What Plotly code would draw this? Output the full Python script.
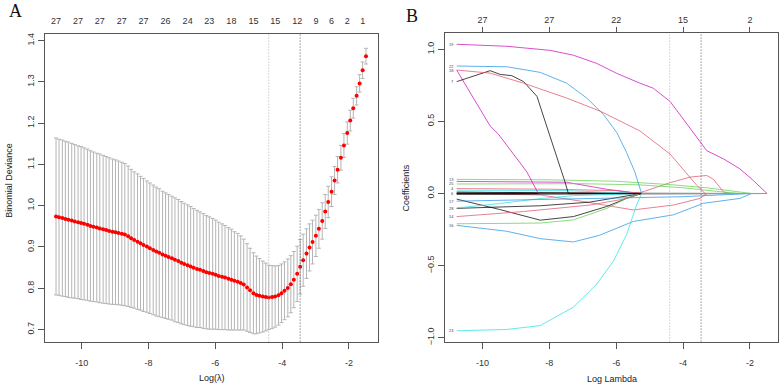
import plotly.graph_objects as go

W, H = 782, 391

# ---------------- Panel A data (cv.glmnet) ----------------
log_lambda = [-10.77, -10.68, -10.58, -10.49, -10.40, -10.30, -10.21, -10.11, -10.02, -9.93,
              -9.83, -9.74, -9.65, -9.55, -9.46, -9.36, -9.27, -9.18, -9.08, -8.99,
              -8.90, -8.80, -8.71, -8.61, -8.52, -8.43, -8.33, -8.24, -8.15, -8.05,
              -7.96, -7.86, -7.77, -7.68, -7.58, -7.49, -7.40, -7.30, -7.21, -7.11,
              -7.02, -6.93, -6.83, -6.74, -6.65, -6.55, -6.46, -6.36, -6.27, -6.18,
              -6.08, -5.99, -5.90, -5.80, -5.71, -5.61, -5.52, -5.43, -5.33, -5.24,
              -5.15, -5.05, -4.96, -4.86, -4.77, -4.68, -4.58, -4.49, -4.40, -4.30,
              -4.21, -4.11, -4.02, -3.93, -3.83, -3.74, -3.65, -3.55, -3.46, -3.37,
              -3.27, -3.18, -3.09, -2.99, -2.90, -2.80, -2.71, -2.62, -2.52, -2.43,
              -2.34, -2.24, -2.15, -2.05, -1.96, -1.87, -1.77, -1.68, -1.59, -1.49]

cv_mean = [0.974, 0.972, 0.970, 0.968, 0.966, 0.964, 0.962, 0.960, 0.958, 0.956,
           0.954, 0.951, 0.949, 0.947, 0.945, 0.943, 0.941, 0.939, 0.937, 0.936,
           0.934, 0.932, 0.930, 0.926, 0.921, 0.917, 0.913, 0.909, 0.905, 0.901,
           0.897, 0.893, 0.889, 0.886, 0.882, 0.879, 0.876, 0.873, 0.869, 0.866,
           0.862, 0.859, 0.856, 0.853, 0.850, 0.847, 0.845, 0.842, 0.839, 0.837,
           0.835, 0.833, 0.830, 0.828, 0.826, 0.823, 0.821, 0.818, 0.816, 0.813,
           0.809, 0.802, 0.795, 0.788, 0.784, 0.782, 0.780, 0.779, 0.778, 0.779,
           0.780, 0.783, 0.788, 0.794, 0.801, 0.810, 0.821, 0.835, 0.852, 0.868,
           0.884, 0.899, 0.912, 0.927, 0.944, 0.963, 0.986, 1.009, 1.034, 1.061,
           1.087, 1.116, 1.146, 1.176, 1.206, 1.236, 1.266, 1.296, 1.328, 1.362]

cv_se = [0.190, 0.189, 0.189, 0.188, 0.188, 0.187, 0.186, 0.185, 0.185, 0.184,
         0.183, 0.182, 0.181, 0.180, 0.180, 0.179, 0.178, 0.177, 0.176, 0.175,
         0.174, 0.173, 0.172, 0.170, 0.167, 0.165, 0.164, 0.162, 0.161, 0.159,
         0.158, 0.157, 0.156, 0.155, 0.153, 0.152, 0.151, 0.150, 0.150, 0.149,
         0.148, 0.147, 0.146, 0.145, 0.143, 0.142, 0.140, 0.139, 0.137, 0.136,
         0.134, 0.132, 0.130, 0.128, 0.126, 0.124, 0.122, 0.119, 0.117, 0.114,
         0.110, 0.106, 0.102, 0.098, 0.094, 0.090, 0.086, 0.082, 0.078, 0.076,
         0.074, 0.072, 0.071, 0.070, 0.070, 0.069, 0.068, 0.067, 0.066, 0.063,
         0.060, 0.057, 0.053, 0.050, 0.047, 0.044, 0.041, 0.038, 0.036, 0.034,
         0.032, 0.030, 0.029, 0.027, 0.025, 0.024, 0.022, 0.021, 0.020, 0.019]

top_idx_A = [0, 7, 14, 21, 28, 35, 42, 49, 56, 63, 70, 77, 83, 88, 93, 98]
top_nz_A = ["27", "27", "27", "27", "27", "26", "24", "23", "18", "15", "15", "12", "9", "6", "2", "1"]

lambda_min = -4.40
lambda_1se = -3.46

x_ticks = [-10, -8, -6, -4, -2]
x_tick_text = ["-10", "-8", "-6", "-4", "-2"]
top_nz_B = ["27", "27", "22", "15", "2"]

yA_ticks = [0.7, 0.8, 0.9, 1.0, 1.1, 1.2, 1.3, 1.4]
yB_ticks = [-1.0, -0.5, 0.0, 0.5, 1.0]

# ---------------- Panel B data (coefficient paths) ----------------
path_logl = {
    "20": [-10.77, -5.29, -4.39, -3.79, -3.29, -3.09, -2.79, -2.60, -1.49],
    "11": [-10.77, -8.27, -7.00, -5.49, -4.29, -3.49, -3.29, -1.49],
    "1":  [-10.77, -5.29, -1.49],
    "2":  [-10.77, -5.29, -1.49],
    "3":  [-10.77, -5.29, -1.49],
    "6":  [-10.77, -5.29, -1.49],
    "13": [-10.77, -8.00, -6.00, -4.40, -3.30, -2.50, -1.95, -1.49],
    "27": [-10.77, -7.48, -6.30, -5.29, -1.49],
    "25": [-10.77, -7.08, -5.30, -4.00, -3.00, -2.30, -1.49],
    "4":  [-10.77, -8.00, -6.00, -5.29, -1.49],
    "5":  [-10.77, -7.50, -5.29, -1.49],
    "15": [-10.77, -9.50, -8.27, -7.28, -6.28, -5.69, -5.24, -1.49],
    "28": [-10.77, -8.27, -6.80, -5.24, -1.49],
    "26": [-10.77, -9.50, -8.27, -7.28, -5.29, -1.49],
    "17": [-10.77, -8.27, -6.00, -4.00, -2.00, -1.49],
    "14": [-10.77, -8.77, -6.78, -5.80, -5.29, -1.49],
    "10": [-10.77, -8.27, -7.28, -6.28, -5.69, -5.29, -1.49],
    "16": [-10.77, -9.27, -8.27, -7.28, -6.50, -5.49, -4.29, -3.39, -2.30, -1.95, -1.49],
    "9":  [-10.77, -9.77, -9.52, -9.07, -8.67, -8.33, -1.49],
    "7":  [-10.77, -9.77, -9.47, -9.12, -8.77, -8.37, -8.08, -7.78, -7.53, -7.43, -1.49],
    "18": [-10.77, -9.77, -8.77, -7.48, -6.48, -5.29, -4.39, -3.89, -3.59, -3.34, -1.49],
    "22": [-10.77, -9.27, -8.27, -7.48, -6.88, -6.38, -5.98, -5.69, -5.44, -5.24, -1.49],
    "23": [-10.77, -9.27, -8.27, -7.28, -6.58, -6.08, -5.69, -5.39, -5.24, -1.49],
    "19": [-10.77, -9.27, -7.98, -7.28, -6.58, -5.98, -5.29, -4.89, -4.39, -3.99, -3.49,
           -3.29, -2.79, -2.30, -1.90, -1.49],
}
path_coef = {
    "20": [0.0, 0.005, 0.075, 0.114, 0.125, 0.098, 0.011, 0.0, 0.0],
    "11": [0.0, -0.010, -0.055, -0.114, -0.080, -0.034, 0.0, 0.0],
    "1":  [0.010, 0.0, 0.0],
    "2":  [-0.006, 0.0, 0.0],
    "3":  [0.004, 0.0, 0.0],
    "6":  [0.0, 0.0, 0.0],
    "13": [0.098, 0.095, 0.085, 0.062, 0.040, 0.015, 0.0, 0.0],
    "27": [0.084, 0.078, 0.030, 0.0, 0.0],
    "25": [0.066, 0.068, 0.060, 0.040, 0.015, 0.0, 0.0],
    "4":  [0.034, 0.030, 0.020, 0.0, 0.0],
    "5":  [0.023, 0.020, 0.0, 0.0],
    "15": [-0.039, -0.110, -0.185, -0.160, -0.090, -0.034, 0.0, 0.0],
    "28": [-0.103, -0.085, -0.060, 0.0, 0.0],
    "26": [-0.100, -0.070, -0.035, -0.015, 0.0, 0.0],
    "17": [-0.053, -0.040, -0.028, -0.022, 0.0, 0.0],
    "14": [-0.160, -0.125, -0.080, -0.040, 0.0, 0.0],
    "10": [-0.210, -0.205, -0.183, -0.103, -0.034, 0.0, 0.0],
    "16": [-0.221, -0.262, -0.313, -0.336, -0.290, -0.194, -0.148, -0.068, -0.034, 0.0, 0.0],
    "9":  [0.856, 0.468, 0.411, 0.274, 0.149, 0.0, 0.0],
    "7":  [0.776, 0.852, 0.826, 0.817, 0.776, 0.674, 0.468, 0.262, 0.080, 0.0, 0.0],
    "18": [0.856, 0.835, 0.765, 0.662, 0.571, 0.434, 0.274, 0.137, 0.057, 0.0, 0.0],
    "22": [0.884, 0.879, 0.840, 0.765, 0.662, 0.548, 0.422, 0.285, 0.148, 0.0, 0.0],
    "23": [-0.952, -0.943, -0.916, -0.788, -0.628, -0.468, -0.285, -0.080, 0.0, 0.0],
    "19": [1.035, 1.021, 0.993, 0.959, 0.902, 0.833, 0.765, 0.730, 0.639, 0.514, 0.365,
           0.297, 0.240, 0.171, 0.091, 0.0],
}
BLACK, PINK, GREEN, BLUE, CYAN, MAGENTA = "#000000", "#DF536B", "#61D04F", "#2297E6", "#28E2E5", "#CD0BBC"
path_color = {
    "20": PINK, "11": PINK, "1": BLACK, "2": BLACK, "3": BLACK, "6": BLACK,
    "13": GREEN, "27": MAGENTA, "25": GREEN, "4": PINK, "5": CYAN,
    "15": BLACK, "28": BLACK, "26": CYAN, "17": BLUE, "14": PINK, "10": GREEN,
    "16": BLUE, "9": MAGENTA, "7": BLACK, "18": PINK, "22": BLUE, "23": CYAN, "19": MAGENTA,
}
# labels printed at the left end of paths (stacked ones share one spot)
label_keys = ["19", "22", "18", "7", "13", "25", "4", "6", "17", "28", "14", "16", "23"]

FONT = "Liberation Sans, Arial, sans-serif"
AXC = "#555555"

fig = go.Figure()

fig.add_trace(go.Scatter(
    x=log_lambda, y=cv_mean, mode="markers", xaxis="x", yaxis="y",
    marker=dict(color="#ff0000", size=4, line=dict(width=0)),
    error_y=dict(type="data", array=cv_se, visible=True, color="#b4b4b4", thickness=1, width=2),
    hoverinfo="skip"))
fig.add_trace(go.Scatter(x=[log_lambda[i] for i in top_idx_A], y=[None] * len(top_idx_A),
                         xaxis="x3", yaxis="y", mode="markers", hoverinfo="skip"))

for key in path_logl:
    fig.add_trace(go.Scatter(
        x=path_logl[key], y=path_coef[key], mode="lines", xaxis="x2", yaxis="y2",
        line=dict(color=path_color[key], width=1), opacity=0.72, hoverinfo="skip"))
fig.add_trace(go.Scatter(x=x_ticks, y=[None] * len(x_ticks), xaxis="x4", yaxis="y2",
                         mode="markers", hoverinfo="skip"))

yd = [1 - 345 / H, 1 - 33 / H]
xA = [45 / W, 378 / W]
xB = [445 / W, 778 / W]
rangeA = [-11.10, -1.13]
rangeB = [-11.12, -1.16]

tickfont = dict(family=FONT, size=9, color="#333333")
common_x = dict(showline=True, linecolor=AXC, linewidth=1, mirror=True, ticks="outside",
                ticklen=6, tickcolor=AXC, tickwidth=1, showgrid=False, zeroline=False,
                tickvals=x_ticks, ticktext=x_tick_text, tickfont=tickfont,
                ticklabelstandoff=7)
common_y = dict(showline=True, linecolor=AXC, linewidth=1, mirror=True, ticks="outside",
                ticklen=6, tickcolor=AXC, tickformat=".1f", tickangle=-90, showgrid=False,
                zeroline=False, tickfont=tickfont)

fig.update_layout(
    width=W, height=H, margin=dict(l=0, r=0, t=0, b=0),
    paper_bgcolor="white", plot_bgcolor="white", showlegend=False,
    xaxis=dict(domain=xA, range=rangeA, anchor="y", **common_x),
    yaxis=dict(domain=yd, range=[0.671, 1.4167], anchor="x", tickvals=yA_ticks, **common_y),
    xaxis3=dict(domain=xA, range=rangeA, overlaying="x", side="top", anchor="y",
                tickvals=[log_lambda[i] for i in top_idx_A], ticktext=top_nz_A,
                ticks="outside", ticklen=5, tickcolor="rgba(0,0,0,0)",
                showline=False, showgrid=False, zeroline=False, tickfont=tickfont),
    xaxis2=dict(domain=xB, range=rangeB, anchor="y2", **common_x),
    yaxis2=dict(domain=[1 - 345 / H, 1 - 32 / H], range=[-1.027, 1.116], anchor="x2",
                tickvals=yB_ticks, **common_y),
    xaxis4=dict(domain=xB, range=rangeB, overlaying="x2", side="top", anchor="y2",
                tickvals=x_ticks, ticktext=top_nz_B, ticks="outside", ticklen=5,
                tickcolor=AXC, showline=False, showgrid=False, zeroline=False, tickfont=tickfont),
)

for xr in ["x", "x2"]:
    yr = "y domain" if xr == "x" else "y2 domain"
    fig.add_shape(type="line", xref=xr, yref=yr, x0=lambda_min, x1=lambda_min, y0=0, y1=1,
                  line=dict(color="#b0b0b0", width=1, dash="1px,2px"))
    fig.add_shape(type="line", xref=xr, yref=yr, x0=lambda_1se, x1=lambda_1se, y0=0, y1=1,
                  line=dict(color="#555555", width=1, dash="1px,2px"))

for key in label_keys:
    fig.add_annotation(x=path_logl[key][0], y=path_coef[key][0], xref="x2", yref="y2",
                       text=key, showarrow=False, xanchor="right", xshift=-1,
                       font=dict(family=FONT, size=4, color="#444444"))

ann = [
    dict(x=9 / W, y=1 - 182 / H, text="Binomial Deviance", textangle=-90),
    dict(x=406 / W, y=1 - 190 / H, text="Coefficients", textangle=-90),
    dict(x=212 / W, y=1 - 382 / H, text="Log(\u03bb)", textangle=0),
    dict(x=612 / W, y=1 - 383 / H, text="Log Lambda", textangle=0),
]
for a in ann:
    fig.add_annotation(xref="paper", yref="paper", showarrow=False, xanchor="center",
                       yanchor="middle", font=dict(family=FONT, size=9, color="#222222"), **a)
fig.add_annotation(xref="paper", yref="paper", x=15 / W, y=1 - 10 / H, text="A", showarrow=False,
                   xanchor="center", yanchor="middle",
                   font=dict(family="Liberation Serif, Times New Roman, serif", size=18, color="#111"))
fig.add_annotation(xref="paper", yref="paper", x=412 / W, y=1 - 15 / H, text="B", showarrow=False,
                   xanchor="center", yanchor="middle",
                   font=dict(family="Liberation Serif, Times New Roman, serif", size=18, color="#111"))

fig.write_html("out.html")
